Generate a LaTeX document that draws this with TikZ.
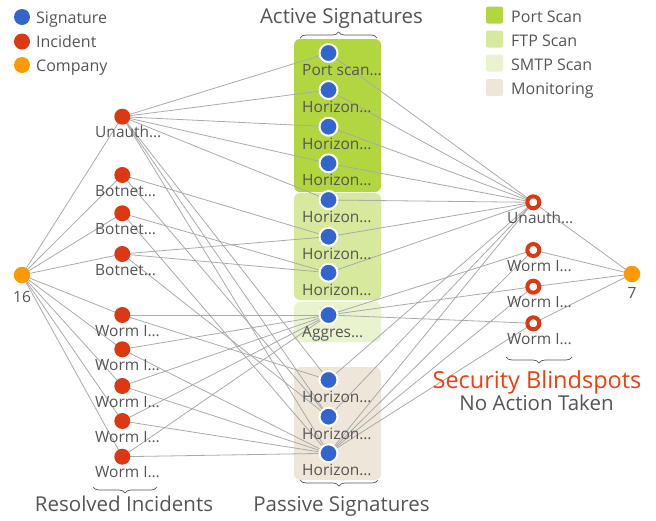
\documentclass[tikz,border=0pt]{standalone}
\usepackage{fontspec}
\setmainfont{Open Sans}
\usetikzlibrary{decorations.pathreplacing}
\definecolor{sigblue}{HTML}{3366CC}
\definecolor{incred}{HTML}{DC3912}
\definecolor{comporange}{HTML}{FF9900}
\definecolor{portg}{HTML}{B2D63F}
\definecolor{ftpg}{HTML}{D7E99D}
\definecolor{smtpg}{HTML}{E9F3CD}
\definecolor{monb}{HTML}{EDE6D9}
\definecolor{txtgray}{HTML}{555555}
\definecolor{edgegray}{HTML}{AAAAAA}
\definecolor{alertred}{HTML}{F23D0D}
\pgfdeclarelayer{bg}
\pgfdeclarelayer{edges}
\pgfsetlayers{bg,edges,main}
\begin{document}
\begin{tikzpicture}[x=1pt,y=-1pt,
  txt/.style={text=txtgray, inner sep=0pt, font=\fontsize{15.5}{18}\selectfont},
  lab/.style={txt, anchor=base west},
  legtxt/.style={txt, anchor=base west, font=\fontsize{16}{19}\selectfont},
  title/.style={txt, anchor=base, font=\fontsize{20.5}{24}\selectfont},
  sig/.style={circle, fill=sigblue, draw=white, line width=2pt, minimum size=18pt, inner sep=0pt},
  inc/.style={circle, fill=incred, minimum size=16pt, inner sep=0pt},
  ring/.style={circle, draw=incred, fill=white, line width=4pt, minimum size=12pt, inner sep=0pt},
  comp/.style={circle, fill=comporange, minimum size=16.5pt, inner sep=0pt},
  sq/.style={rounded corners=2pt, minimum size=17pt, inner sep=0pt},
  edge/.style={draw=edgegray, line width=0.8pt},
  grp/.style={rounded corners=6pt},
  brc/.style={decorate, decoration={brace, amplitude=6pt}, draw=txtgray, line width=0.7pt}
]
\useasboundingbox (0,0) rectangle (656,520);

% group boxes
\begin{pgfonlayer}{bg}
  \fill[grp, portg] (294,39) rectangle (381,192);
  \fill[grp, ftpg] (294,193) rectangle (381,300);
  \fill[grp, smtpg] (294,302) rectangle (381,342);
  \fill[grp, monb] (294,367) rectangle (381,480);
\end{pgfonlayer}

% legend left
\node[circle, fill=sigblue, minimum size=16pt, inner sep=0pt] (lgs) at (22,17) {};
\node[circle, fill=incred, minimum size=16pt, inner sep=0pt] (lgi) at (22,41.5) {};
\node[circle, fill=comporange, minimum size=16pt, inner sep=0pt] (lgc) at (22,65) {};
\node[legtxt] (lgst) at (36,23) {Signature};
\node[legtxt] (lgit) at (36,47.5) {Incident};
\node[legtxt] (lgct) at (36,71) {Company};

% legend right
\node[sq, fill=portg] (lgp) at (494.5,15) {};
\node[sq, fill=ftpg] (lgf) at (494.5,39) {};
\node[sq, fill=smtpg] (lgm) at (494.5,63) {};
\node[sq, fill=monb] (lgo) at (494.5,87.5) {};
\node[legtxt] (lgpt) at (511,22) {Port Scan};
\node[legtxt] (lgft) at (511,46) {FTP Scan};
\node[legtxt] (lgmt) at (511,70) {SMTP Scan};
\node[legtxt] (lgot) at (511,94) {Monitoring};

% companies
\node[comp] (cL) at (22,275) {};
\node[txt, anchor=base] (cLl) at (22,302) {16};
\node[comp] (cR) at (632,274) {};
\node[txt, anchor=base] (cRl) at (632,298) {7};

% left incidents
\foreach \n/\y/\t in {i1/116.7/Unauth…, i2/175/Botnet…, i3/213.3/Botnet…, i4/254/Botnet…,
  i5/315/Worm I…, i6/349.3/Worm I…, i7/386/Worm I…, i8/421/Worm I…, i9/456.7/Worm I…}{
  \node[inc] (\n) at (122.3,\y) {};
  \node[lab] (l\n) at (95,{\y+21}) {\t};
}

% signatures
\foreach \n/\y/\t in {s1/53/Port scan…, s2/90/Horizon…, s3/126.7/Horizon…, s4/163.3/Horizon…,
  s5/200/Horizon…, s6/236.7/Horizon…, s7/272.7/Horizon…, s8/315/Aggres…,
  s9/380/Horizon…, s10/416.7/Horizon…, s11/453.3/Horizon…}{
  \node[sig] (\n) at (328.5,\y) {};
  \node[lab] (l\n) at (302,{\y+22.5}) {\t};
}

% right incidents (blindspots)
\foreach \n/\y/\t in {r1/202.3/Unauth…, r2/250/Worm I…, r3/286.7/Worm I…, r4/323.3/Worm I…}{
  \node[ring] (\n) at (533.3,\y) {};
  \node[lab] (l\n) at (507,{\y+21}) {\t};
}

% connectors
\begin{pgfonlayer}{edges}
  \foreach \a in {i1,i2,i3,i4,i5,i6,i7,i8,i9}{ \draw[edge] (cL.center) -- (\a.center); }
  \foreach \a in {r1,r2,r3,r4}{ \draw[edge] (cR.center) -- (\a.center); }
  \foreach \a/\b in {i1/s1, i1/s2, i1/s3, i1/s4, i1/s5, i1/s9, i1/s10, i1/s11,
    i2/s6, i2/s10, i3/s7, i3/s11, i4/s6, i4/s7, i4/s10,
    i5/s8, i5/s9, i6/s8, i6/s11, i7/s8, i7/s11, i8/s8, i8/s11, i9/s8, i9/s11,
    s1/r1, s2/r1, s3/r1, s4/r1, s5/r1, s6/r1, s7/r1,
    s8/r2, s8/r3, s8/r4, s9/r1, s10/r1, s11/r1, s11/r2, s11/r3, s11/r4}{
    \draw[edge] (\a.center) -- (\b.center);
  }
\end{pgfonlayer}

% braces and titles
\draw[brc] (300,38) -- (377,38);
\node[title] (tact) at (341.5,23) {Active Signatures};
\draw[brc] (378,480) -- (300,480);
\node[title] (tpas) at (341.5,511) {Passive Signatures};
\draw[brc] (157,487) -- (93,487);
\node[title] (tres) at (124,511) {Resolved Incidents};
\draw[brc] (572,357) -- (506,357);
\node[txt, anchor=base, text=alertred, font=\fontsize{23.5}{27}\selectfont] (tsec) at (537,388) {Security Blindspots};
\node[title] (tno) at (536.5,410) {No Action Taken};
\end{tikzpicture}
\end{document}
